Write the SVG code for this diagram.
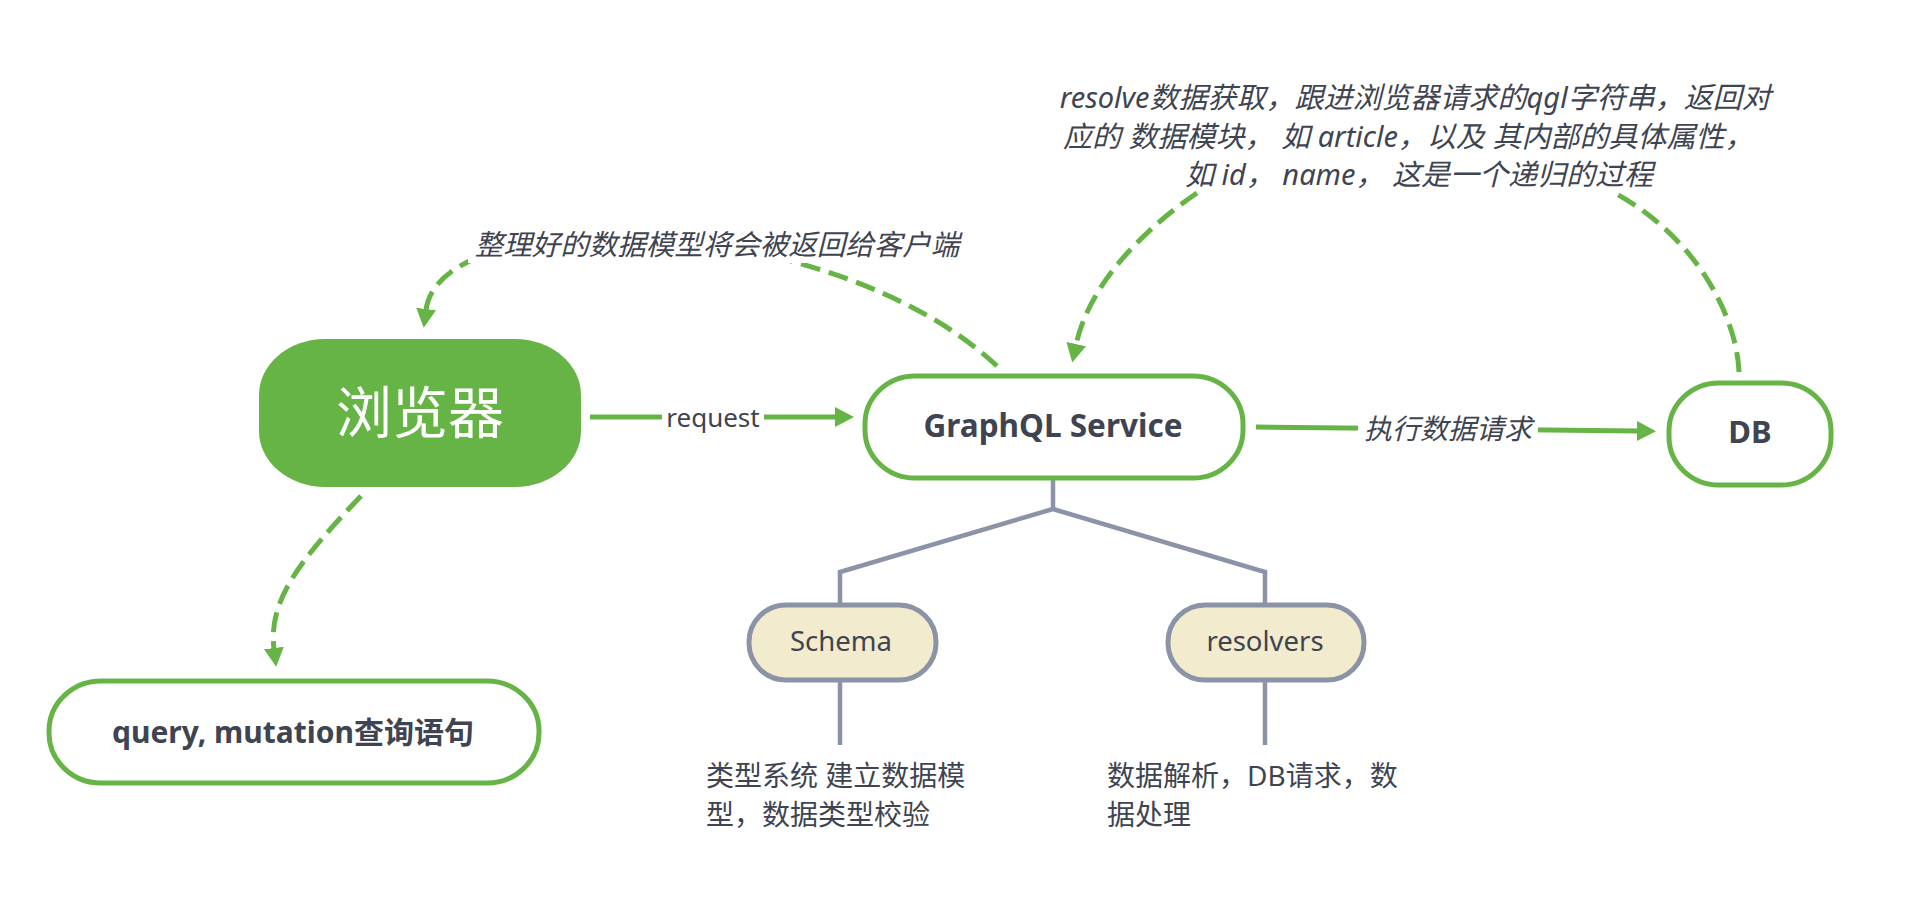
<svg xmlns="http://www.w3.org/2000/svg" width="1918" height="898" viewBox="0 0 1918 898">
<defs>
<style>
.t{font-family:"Noto Sans","Noto Sans CJK SC",sans-serif;fill:#3E4451}
.b{font-weight:bold}
.i{font-style:italic}
.gn{fill:#fff;stroke:#66B446;stroke-width:5}
.yn{fill:#F2EBCD;stroke:#8B94A6;stroke-width:5}
.dash{fill:none;stroke:#66B446;stroke-width:5;stroke-dasharray:20 9}
.solid{fill:none;stroke:#66B446;stroke-width:5}
.tree{fill:none;stroke:#8B94A6;stroke-width:4.5;stroke-linejoin:miter}
.bg{fill:#fff}
</style>
<marker id="ah" markerUnits="userSpaceOnUse" markerWidth="20" markerHeight="20" refX="1" refY="10" orient="auto">
<path d="M0,0 L19,10 L0,20 z" fill="#66B446"/>
</marker>
</defs>
<rect width="1918" height="898" fill="#fff"/>

<g id="connectors">
<path class="tree" d="M1053 478 V509 L840 572 V604 M1053 509 L1265 572 V604 M840 681 V745 M1265 681 V745"/>
<path class="solid" d="M590 417 L836 417" marker-end="url(#ah)"/>
<rect class="bg" x="662" y="402" width="102" height="30"/>
<text class="t" x="713" y="427" font-size="26" text-anchor="middle">request</text>
<path class="solid" d="M1256 427 L1638 431" marker-end="url(#ah)"/>
<rect class="bg" x="1358" y="413" width="180" height="34"/>
<text class="t i" x="1448" y="439" font-size="28" text-anchor="middle">执行数据请求</text>
<path class="dash" d="M997 366 C830 210, 440 200, 426 310" marker-end="url(#ah)"/>
<rect class="bg" x="468" y="225" width="498" height="38"/>
<text class="t i" x="717" y="255" font-size="28.5" text-anchor="middle">整理好的数据模型将会被返回给客户端</text>
<path class="dash" d="M361 496 C300 560, 268 600, 274 649" marker-end="url(#ah)"/>
<path class="dash" d="M1197 193 C1150 225, 1090 280, 1076 345" marker-end="url(#ah)"/>
<path class="dash" d="M1739 372 C1737 320, 1700 240, 1615 193"/>
<text class="t i" font-size="29" text-anchor="middle">
<tspan x="1419" y="108">resolve数据获取，跟进浏览器请求的qgl字符串，返回对</tspan>
<tspan x="1412" y="147">应的 数据模块， 如 article，以及 其内部的具体属性，</tspan>
<tspan x="1419" y="185">如 id， name， 这是一个递归的过程</tspan>
</text>
</g>

<g id="browser">
<rect x="259" y="339" width="322" height="148" rx="66" ry="56" fill="#66B446"/>
<text class="t" x="420" y="433" font-size="56" text-anchor="middle" style="fill:#fff">浏览器</text>
</g>

<g id="graphql">
<rect class="gn" x="865" y="376" width="378" height="102" rx="50" ry="48"/>
<text class="t b" x="1053" y="437" font-size="31.5" text-anchor="middle">GraphQL Service</text>
</g>

<g id="db">
<rect class="gn" x="1669" y="383" width="162" height="102" rx="50" ry="48"/>
<text class="t b" x="1750" y="443" font-size="31" text-anchor="middle">DB</text>
</g>

<g id="query">
<rect class="gn" x="49" y="681" width="490" height="102" rx="52" ry="50"/>
<text class="t b" x="293" y="743" font-size="30" text-anchor="middle">query, mutation查询语句</text>
</g>

<g id="schema">
<rect class="yn" x="749" y="605" width="187" height="75" rx="37"/>
<text class="t" x="841" y="651" font-size="27.5" text-anchor="middle">Schema</text>
</g>

<g id="resolvers">
<rect class="yn" x="1168" y="605" width="196" height="75" rx="37"/>
<text class="t" x="1265" y="651" font-size="27.5" text-anchor="middle">resolvers</text>
</g>

<g id="schema-desc">
<text class="t" font-size="28"><tspan x="706" y="786">类型系统 建立数据模</tspan><tspan x="706" y="825">型，数据类型校验</tspan></text>
</g>

<g id="resolvers-desc">
<text class="t" font-size="28"><tspan x="1107" y="786">数据解析，DB请求，数</tspan><tspan x="1107" y="825">据处理</tspan></text>
</g>
</svg>
